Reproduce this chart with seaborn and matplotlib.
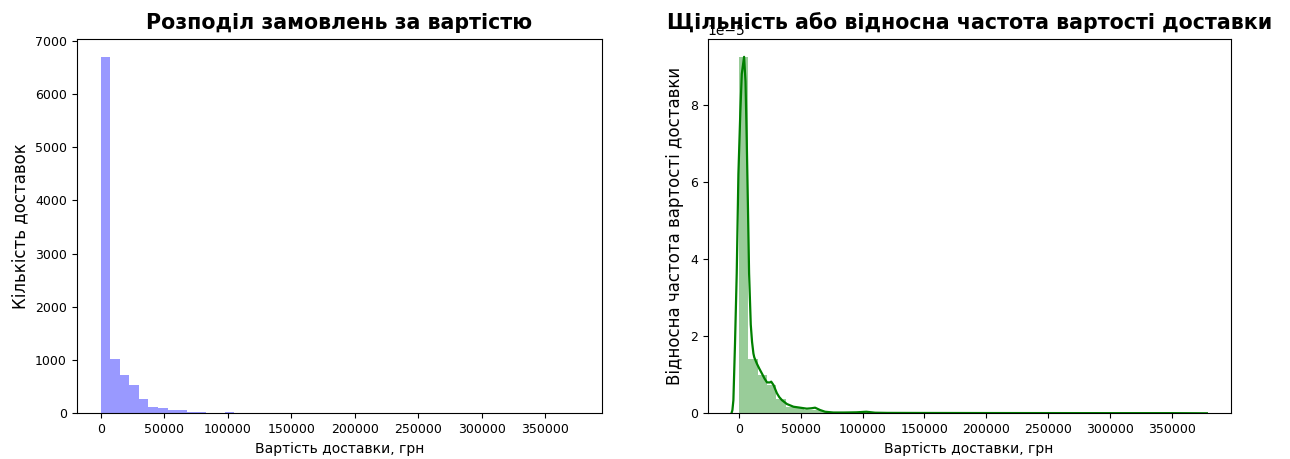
import numpy as np
import pandas as pd
import matplotlib
matplotlib.use("Agg")
import matplotlib.pyplot as plt
import seaborn as sns

# ---- data ----
# 50 equal-width bins from 0 to ~376000 UAH (order counts)
bin_low = 0
bin_high = 376000
n_bins = 50
bin_counts = [6695, 1023, 720, 530, 268, 115, 90, 60, 60, 20,
              19, 3, 2, 20, 2, 1, 1, 2, 1, 0,
              1, 1, 0, 1, 0, 0, 1, 0, 0, 1,
              0, 0, 0, 1, 0, 0, 0, 0, 1, 0,
              0, 0, 0, 0, 0, 0, 0, 0, 0, 1]

# density curve (units of 1e-5)
kde_x = [-6160, -5400, -4600, -3300, -1900, -550, 1000, 2200, 4050, 5200,
         6200, 7200, 8100, 9450, 10500, 11600, 12300, 14500, 16500, 18500,
         20600, 22600, 25000, 26000, 27900, 30600, 32500, 34700, 38700, 44000,
         49400, 54800, 58500, 61500, 65500, 69600, 76300, 85000, 95000, 103000,
         110000, 120000, 150000, 200000, 250000, 300000, 350000, 378540]
kde_y = [0.0, 0.08, 0.34, 1.8, 3.63, 6.2, 7.8, 8.8, 9.24, 8.6,
         7.08, 5.3, 3.63, 2.3, 1.85, 1.55, 1.45, 1.28, 1.15, 1.03,
         0.9, 0.8, 0.8, 0.82, 0.73, 0.52, 0.42, 0.34, 0.24, 0.17,
         0.145, 0.12, 0.13, 0.145, 0.085, 0.04, 0.02, 0.02, 0.025, 0.04,
         0.015, 0.01, 0.008, 0.006, 0.005, 0.004, 0.004, 0.0]

title_left = "Розподіл замовлень за вартістю"
title_right = "Щільність або відносна частота вартості доставки"
xlabel = "Вартість доставки, грн"
ylabel_left = "Кількість доставок"
ylabel_right = "Відносна частота вартості доставки"

# ---- build tables ----
edges = np.linspace(bin_low, bin_high, n_bins + 1).tolist()
centers = [(a + b) / 2 for a, b in zip(edges[:-1], edges[1:])]
hist_df = pd.DataFrame({"cost": centers, "count": bin_counts})
kde_df = pd.DataFrame({"cost": kde_x, "density": np.array(kde_y) * 1e-5})

plt.rcParams["font.family"] = ["DejaVu Sans"]
fig = plt.figure(figsize=(12.9, 4.59), dpi=100)
ax1 = fig.add_axes([0.0595, 0.0996, 0.4074, 0.8154])
ax2 = fig.add_axes([0.5486, 0.0996, 0.4054, 0.8154])

sns.histplot(data=hist_df, x="cost", weights="count", bins=edges,
             color="blue", alpha=0.4, linewidth=0, ax=ax1)
ax1.set_title(title_left, fontsize=14.8, fontweight="bold", y=1.0, pad=7)
ax1.set_xlabel(xlabel, fontsize=10)
ax1.set_ylabel(ylabel_left, fontsize=12)

sns.histplot(data=hist_df, x="cost", weights="count", bins=edges,
             stat="density", color="green", alpha=0.4, linewidth=0, ax=ax2)
sns.lineplot(data=kde_df, x="cost", y="density", color="green",
             linewidth=1.6, ax=ax2)
ax2.set_title(title_right, fontsize=14.8, fontweight="bold", y=1.0, pad=7)
ax2.set_xlabel(xlabel, fontsize=10)
ax2.set_ylabel(ylabel_right, fontsize=12)

for ax in (ax1, ax2):
    ax.tick_params(labelsize=9)
    ax.set_ylim(bottom=0)

fig.savefig("out.png", dpi=100)
